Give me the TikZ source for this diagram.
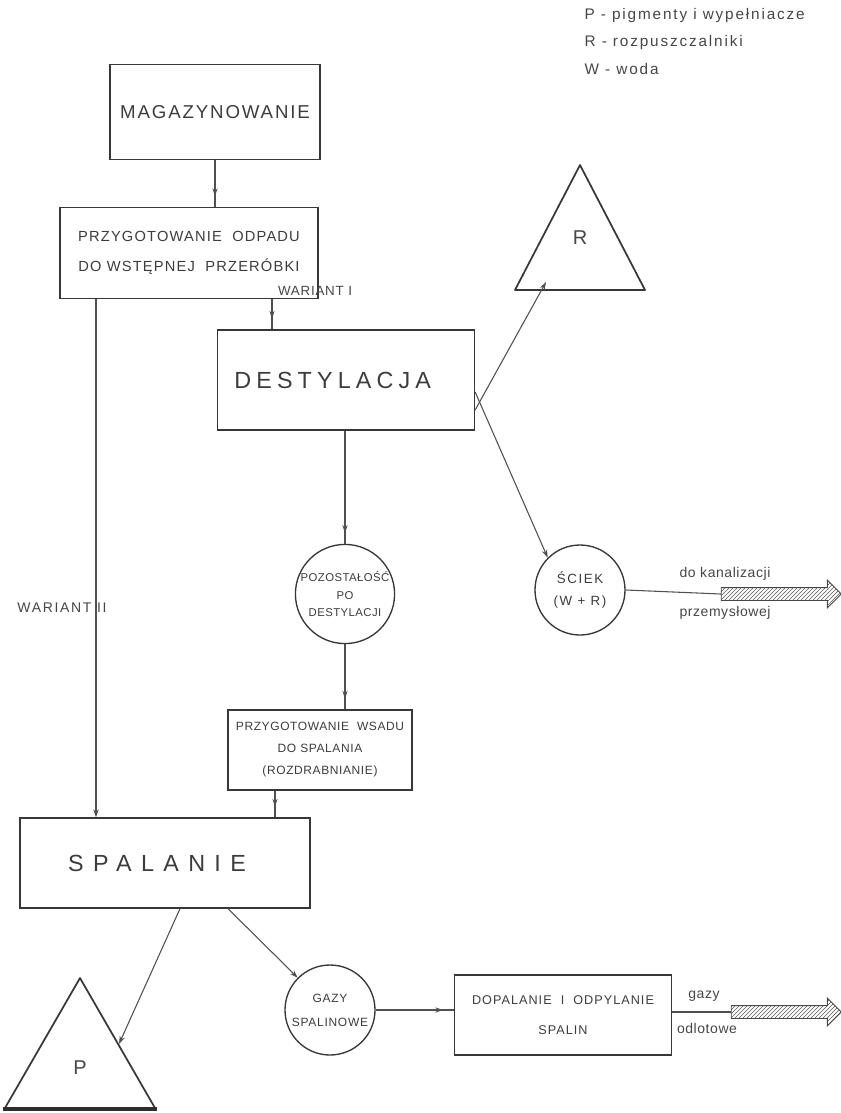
\documentclass[tikz,border=0pt]{standalone}
\usepackage{fontspec}
\setmainfont{Liberation Sans}
\usetikzlibrary{arrows.meta,decorations.markings,patterns,shapes.arrows}

\newcommand{\trk}[1]{\addfontfeature{LetterSpace=#1}}

\tikzset{
  proc/.style={draw={rgb, 255:red, 55; green, 55; blue, 55 }, line width=1pt, text={rgb, 255:red, 60; green, 60; blue, 60 }, align=center, inner sep=0pt},
  store/.style={circle, draw={rgb, 255:red, 55; green, 55; blue, 55 }, line width=1pt, text={rgb, 255:red, 60; green, 60; blue, 60 }, align=center, inner sep=0pt},
  lbl/.style={text={rgb, 255:red, 70; green, 70; blue, 70 }, inner sep=1pt},
  flow/.style={draw={rgb, 255:red, 80; green, 80; blue, 80 }, line width=0.8pt, -{Stealth[length=6pt,width=4pt]}},
  flowgap/.style={draw={rgb, 255:red, 80; green, 80; blue, 80 }, line width=0.8pt, postaction={decorate}, decoration={markings, mark=at position -8pt with {\arrow{Stealth[length=6pt,width=4pt]}}}},
  hatch/.style={single arrow, draw={rgb, 255:red, 70; green, 70; blue, 70 }, line width=0.7pt, pattern=north east lines, pattern color={rgb, 255:red, 90; green, 90; blue, 90 }, inner sep=4.5pt, single arrow head extend=5.5pt}
}

\begin{document}
\begin{tikzpicture}[x=0.75pt,y=0.75pt,yscale=-1,xscale=1]
\path[use as bounding box] (0,0) rectangle (840,1113);

% Text Node
\node[lbl, anchor=west, font=\fontsize{11.5}{13}\selectfont\trk{12}] (legP) at (583,16) {P - pigmenty i wypełniacze};
% Text Node
\node[lbl, anchor=west, font=\fontsize{11.5}{13}\selectfont\trk{12}] (legR) at (583,43) {R - rozpuszczalniki};
% Text Node
\node[lbl, anchor=west, font=\fontsize{11.5}{13}\selectfont\trk{12}] (legW) at (583,69) {W - woda};

%Shape: Rectangle
\node[proc, minimum width=157.5pt, minimum height=71.25pt, font=\fontsize{14}{16}\selectfont\trk{10}] (magazyn) at (215,112) {MAGAZYNOWANIE};
%Shape: Rectangle
\node[proc, minimum width=193.5pt, minimum height=68.25pt, font=\fontsize{11}{22}\selectfont\trk{8}] (przyg) at (189,253) {PRZYGOTOWANIE\ \ ODPADU\\[1pt]DO WSTĘPNEJ\ \ PRZERÓBKI};
%Shape: Rectangle
\node[proc, minimum width=192.75pt, minimum height=75pt, font=\fontsize{17.5}{19}\selectfont\trk{22}] (destyl) at (346,380) {DESTYLACJA\hspace{20pt}};
%Shape: Circle
\node[store, minimum size=72pt, font=\fontsize{8.5}{13}\selectfont\trk{4}] (pozost) at (345,594) {POZOSTAŁOŚĆ\\PO\\DESTYLACJI};
%Shape: Circle
\node[store, minimum size=67.5pt, font=\fontsize{10}{17}\selectfont\trk{12}] (sciek) at (580,590) {ŚCIEK\\(W + R)};
%Shape: Rectangle
\node[proc, minimum width=138pt, minimum height=60pt, font=\fontsize{9}{16.5}\selectfont\trk{5}] (wsad) at (320,750) {PRZYGOTOWANIE\ \ WSADU\\DO SPALANIA\\(ROZDRABNIANIE)};
%Shape: Rectangle
\node[proc, minimum width=217.5pt, minimum height=67.5pt, font=\fontsize{17.5}{19}\selectfont\trk{40}] (spal) at (165,863) {SPALANIE\hspace{12pt}};
%Shape: Circle
\node[store, minimum size=67.5pt, font=\fontsize{9}{18}\selectfont\trk{6}] (gazy) at (330,1010) {GAZY\\SPALINOWE};
%Shape: Rectangle
\node[proc, minimum width=162.75pt, minimum height=60pt, font=\fontsize{9.5}{22}\selectfont\trk{8}] (dopal) at (563,1015) {DOPALANIE\ \ I\ \ ODPYLANIE\\SPALIN};

%Shape: Triangle
\draw [draw={rgb, 255:red, 55; green, 55; blue, 55 }, line width=1.3pt, line join=round] (580,165) -- (645,290) -- (515,290) -- cycle ;
\node[lbl, font=\fontsize{15}{17}\selectfont] (rozp) at (580,238) {R};
%Shape: Triangle
\draw [draw={rgb, 255:red, 55; green, 55; blue, 55 }, line width=1.3pt, line join=round] (80,978) -- (155,1108) -- (5,1108) -- cycle ;
\draw [draw={rgb, 255:red, 45; green, 45; blue, 45 }, line width=3pt] (3,1109) -- (157,1109) ;
\node[lbl, font=\fontsize{15}{17}\selectfont] (pigm) at (80,1068) {P};

%Hatched arrows
\node[hatch, minimum height=90pt] (kanal) at (778,594) {};
\node[hatch, minimum height=82.5pt] (odlot) at (783,1012) {};

\coordinate (wII) at (96,0);
\coordinate (wI) at (272,0);
\coordinate (wsadX) at (275,0);
\coordinate (spalP) at (180,0);
\coordinate (spalG) at (228,0);
\coordinate (rIn) at (546,282);
\coordinate (pIn) at (119,1044);

%Straight Lines
\draw[flowgap] (magazyn.south) -- (magazyn.south |- przyg.north) ;
\draw[flow] (przyg.south -| wII) -- (spal.north -| wII) ;
\draw[flowgap] (przyg.south -| wI) -- (destyl.north -| wI) ;
\draw[flow] ([yshift=22.5pt]destyl.east) -- (rIn) ;
\draw[flow] ([yshift=9pt]destyl.east) -- (sciek.135) ;
\draw[flowgap] (pozost.north |- destyl.south) -- (pozost.north) ;
\draw[flowgap] (pozost.south) -- (pozost.south |- wsad.north) ;
\draw[flowgap] (wsad.south -| wsadX) -- (spal.north -| wsadX) ;
\draw[flow] (spal.south -| spalP) -- (pIn) ;
\draw[flow] (spal.south -| spalG) -- (gazy.135) ;
\draw[flowgap] (gazy.east) -- (gazy.east -| dopal.west) ;
\draw[draw={rgb, 255:red, 80; green, 80; blue, 80 }, line width=0.8pt] (sciek.east) -- (kanal.tail) ;
\draw[draw={rgb, 255:red, 80; green, 80; blue, 80 }, line width=0.8pt] (dopal.east |- odlot.tail) -- (odlot.tail) ;

% Text Node
\node[lbl, font=\fontsize{10}{12}\selectfont\trk{6}] (war1) at (315,291) {WARIANT I};
% Text Node
\node[lbl, font=\fontsize{10.5}{12}\selectfont\trk{12}] (war2) at (62,608) {WARIANT II};
% Text Node
\node[lbl, font=\fontsize{10.5}{12}\selectfont\trk{4}] (kan1) at (725,574) {do kanalizacji};
% Text Node
\node[lbl, font=\fontsize{10.5}{12}\selectfont\trk{4}] (kan2) at (725,613) {przemysłowej};
% Text Node
\node[lbl, font=\fontsize{10.5}{12}\selectfont\trk{4}] (gaz1) at (704,996) {gazy};
% Text Node
\node[lbl, font=\fontsize{10.5}{12}\selectfont\trk{4}] (gaz2) at (707,1028) {odlotowe};

\end{tikzpicture}
\end{document}
